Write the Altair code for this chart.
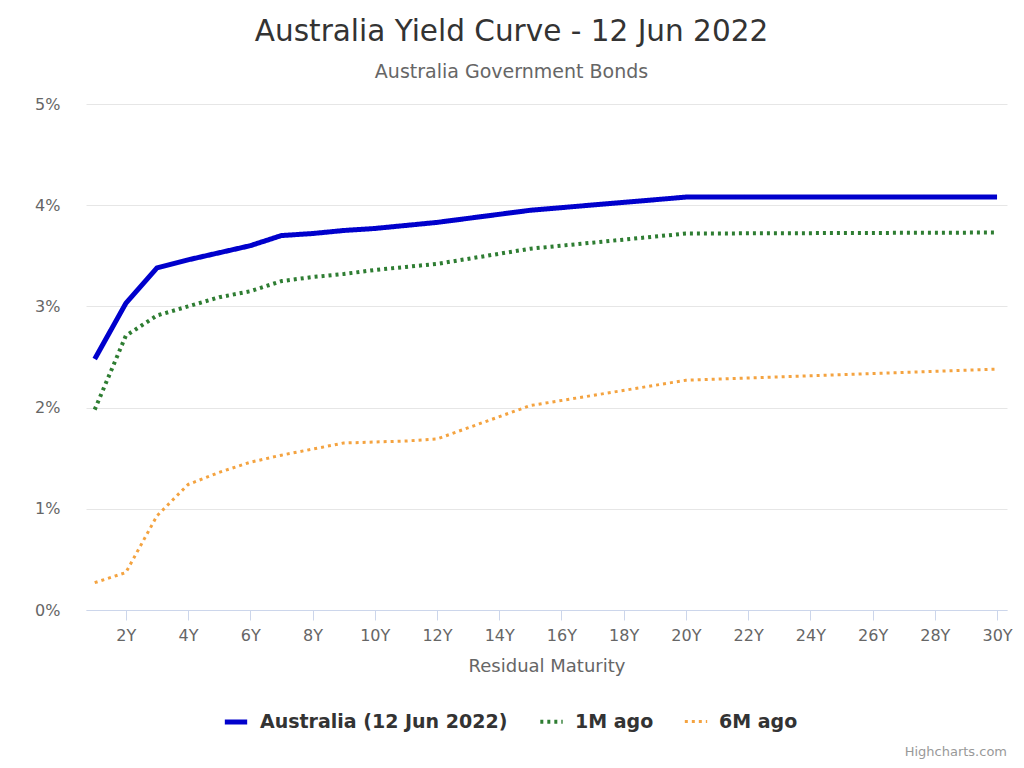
import altair as alt
import pandas as pd

maturities = [1, 2, 3, 4, 5, 6, 7, 8, 9, 10, 11, 12, 15, 20, 30]
aus_now = [2.48, 3.03, 3.38, 3.46, 3.53, 3.60, 3.70, 3.72, 3.75, 3.77, 3.80, 3.83, 3.95, 4.08, 4.08]
aus_1m = [1.98, 2.71, 2.91, 3.00, 3.09, 3.15, 3.25, 3.29, 3.32, 3.36, 3.39, 3.42, 3.57, 3.72, 3.73]
aus_6m = [0.27, 0.37, 0.93, 1.24, 1.36, 1.46, 1.53, 1.59, 1.65, 1.66, 1.67, 1.69, 2.02, 2.27, 2.38]

series_names = ["Australia (12 Jun 2022)", "1M ago", "6M ago"]
series_colors = ["#0000cc", "#2e7d32", "#f4a340"]
series_dash = [[1, 0], [3, 4], [3, 4]]
series_width = [5, 3, 3]

rows = []
for name, vals in zip(series_names, [aus_now, aus_1m, aus_6m]):
    for m, v in zip(maturities, vals):
        rows.append({"series": name, "maturity": m, "yield": v})
df = pd.DataFrame(rows)

FONT = "DejaVu Sans"

lines = alt.Chart(df).mark_line(strokeCap="butt", strokeJoin="round").encode(
    x=alt.X(
        "maturity:Q",
        scale=alt.Scale(domain=[0.72, 30.32], nice=False, zero=False),
        axis=alt.Axis(
            values=list(range(2, 31, 2)),
            labelExpr="datum.value + 'Y'",
            grid=False,
            domainColor="#ccd6eb",
            tickColor="#ccd6eb",
            tickSize=10,
            labelFontSize=16,
            labelColor="#666666",
            labelFont=FONT,
            labelPadding=7,
            title="Residual Maturity",
            titleFont=FONT,
            titleFontSize=18,
            titleFontWeight="normal",
            titleColor="#666666",
            titlePadding=14,
        ),
    ),
    y=alt.Y(
        "yield:Q",
        scale=alt.Scale(domain=[0, 5], nice=False),
        axis=alt.Axis(
            values=[0, 1, 2, 3, 4, 5],
            labelExpr="datum.value + '%'",
            grid=True,
            gridColor="#e6e6e6",
            domain=False,
            ticks=False,
            labelFontSize=16,
            labelColor="#666666",
            labelFont=FONT,
            labelPadding=26,
            title=None,
        ),
    ),
    color=alt.Color(
        "series:N",
        scale=alt.Scale(domain=series_names, range=series_colors),
        legend=alt.Legend(
            title=None,
            orient="none",
            direction="horizontal",
            legendX=136,
            legendY=604,
            symbolType="stroke",
            symbolSize=500,
            labelFont=FONT,
            labelFontSize=19,
            labelFontWeight="bold",
            labelColor="#333333",
            labelLimit=0,
            columnPadding=24,
            labelOffset=10,
        ),
    ),
    strokeDash=alt.StrokeDash(
        "series:N",
        scale=alt.Scale(domain=series_names, range=series_dash),
        legend=None,
    ),
    strokeWidth=alt.StrokeWidth(
        "series:N",
        scale=alt.Scale(domain=series_names, range=series_width),
        legend=None,
    ),
    order=alt.Order("maturity:Q"),
)

credit_df = pd.DataFrame({"t": ["Highcharts.com"]})
credit = alt.Chart(credit_df).mark_text(
    align="right", baseline="middle", fontSize=13, color="#999999", font=FONT
).encode(text="t:N", x=alt.value(921), y=alt.value(648))

chart = alt.layer(lines, credit).properties(
    width=921,
    height=506,
    padding={"left": 86, "top": 104, "right": 17, "bottom": 158},
    autosize=alt.AutoSizeParams(type="none"),
    title=alt.TitleParams(
        text="Australia Yield Curve - 12 Jun 2022",
        subtitle="Australia Government Bonds",
        anchor="middle",
        dx=-35,
        font=FONT,
        fontSize=29.5,
        fontWeight="normal",
        color="#333333",
        subtitleFont=FONT,
        subtitleFontSize=19,
        subtitleColor="#666666",
        subtitlePadding=16,
        offset=13,
    ),
).configure_view(stroke=None)

chart.save("out.html", embed_options={"renderer": "svg", "actions": False})
